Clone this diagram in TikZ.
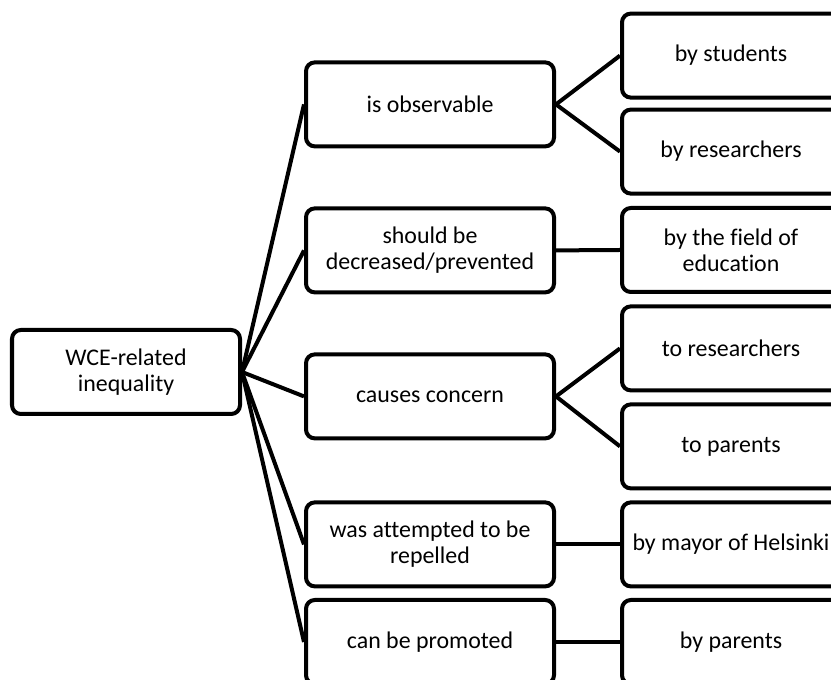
\documentclass[tikz,border=0pt]{standalone}
\usepackage{fontspec}
\setmainfont{Carlito}[Ligatures=CommonOff]
\usepackage{tikz}
\usetikzlibrary{positioning}
\tikzset{
	boxnode/.style={
			draw=black,
			line width=0.1cm,
			rounded corners=0.22cm,
			fill=white,
			align=center,
			minimum height=2.1cm,
			inner sep=0pt,
			font=\fontsize{17}{18.5}\selectfont
		},
	rootnode/.style={
			boxnode,
			minimum width=5.7cm
		},
	midnode/.style={
			boxnode,
			minimum width=6.2cm
		},
	leafnode/.style={
			boxnode,
			minimum width=5.45cm
		},
	linkline/.style={
			draw=black,
			line width=0.1cm
		}
}
\begin{document}
\begin{tikzpicture}

\useasboundingbox (0,0) rectangle (20.775,17);
\clip (0,0) rectangle (20.775,17);

\node[rootnode] (rIneq) at (3.15,7.7) {WCE-related\\inequality};

\node[midnode] (mObs) at (10.75,14.39) {is observable};
\node[midnode] (mDec) at (10.75,10.74) {should be\\decreased/prevented};
\node[midnode] (mCon) at (10.75,7.09) {causes concern};
\node[midnode] (mRep) at (10.75,3.39) {was attempted to be\\repelled};
\node[midnode] (mPro) at (10.75,0.95) {can be promoted};

\node[leafnode] (lStu) at (18.275,15.61) {by students};
\node[leafnode] (lRes) at (18.275,13.21) {by researchers};
\node[leafnode] (lFie) at (18.275,10.75) {by the field of\\education};
\node[leafnode] (lTRes) at (18.275,8.29) {to researchers};
\node[leafnode] (lTPar) at (18.275,5.84) {to parents};
\node[leafnode] (lMay) at (18.275,3.39) {by mayor of Helsinki};
\node[leafnode] (lPar) at (18.275,0.95) {by parents};

\foreach \m in {mObs,mDec,mCon,mRep,mPro}
	\draw[linkline] (rIneq.east) -- (\m.west);

\draw[linkline] (mObs.east) -- (lStu.west);
\draw[linkline] (mObs.east) -- (lRes.west);
\draw[linkline] (mDec.east) -- (lFie.west);
\draw[linkline] (mCon.east) -- (lTRes.west);
\draw[linkline] (mCon.east) -- (lTPar.west);
\draw[linkline] (mRep.east) -- (lMay.west);
\draw[linkline] (mPro.east) -- (lPar.west);

\end{tikzpicture}
\end{document}
